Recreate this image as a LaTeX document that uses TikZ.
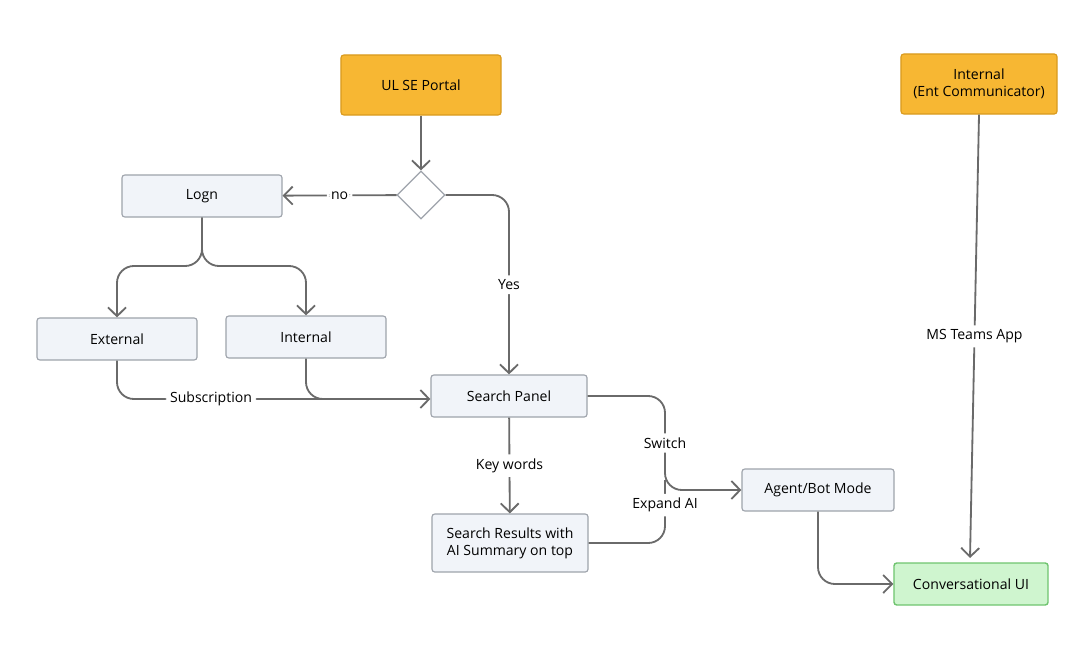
\documentclass[tikz,border=0pt]{standalone}
\usepackage{fontspec}
\setmainfont{Open Sans}
\usetikzlibrary{arrows.meta,shapes.geometric,positioning}
\definecolor{boxfill}{HTML}{F1F4F9}
\definecolor{boxline}{HTML}{9EA3AB}
\definecolor{startfill}{HTML}{F7B733}
\definecolor{startline}{HTML}{D99A1E}
\definecolor{endfill}{HTML}{CFF5CF}
\definecolor{endline}{HTML}{6FC46F}
\definecolor{wire}{HTML}{6A6A6A}

\begin{document}
\begin{tikzpicture}
	[
		x=0.025cm, y=-0.025cm,
		every node/.style = {font=\fontsize{10}{12}\selectfont, align=center},
		box/.style = {draw=boxline, fill=boxfill, rounded corners=2pt, line width=0.8pt, minimum width=4cm, minimum height=1.05cm},
		start/.style = {box, draw=startline, fill=startfill, minimum height=1.5cm},
		goal/.style = {box, draw=endline, fill=endfill, line width=1pt},
		wire/.style = {draw=wire, line width=1.3pt, rounded corners=12pt, -{Straight Barb[length=2.2mm,width=4.5mm]}},
		tag/.style = {fill=white, inner sep=3pt},
	]
  \useasboundingbox (0,0) rectangle (1089,657);

  \node[start] (portal) at (421,85) {UL SE Portal};
  \node[start, minimum width=3.9cm] (ent) at (979,84) {Internal\\(Ent Communicator)};
  \node[diamond, draw=boxline, fill=white, line width=0.8pt, minimum size=1.2cm, inner sep=0pt] (check) at (421,195) {};
  \node[box] (login) at (202,196) {Logn};
  \node[box] (ext) at (117,339) {External};
  \node[box] (int) at (306,337) {Internal};
  \node[box, minimum width=3.9cm] (search) at (509,396) {Search Panel};
  \node[box, minimum width=3.9cm, minimum height=1.45cm] (results) at (510,543) {Search Results with\\AI Summary on top};
  \node[box, minimum width=3.8cm] (agent) at (818,490) {Agent/Bot Mode};
  \node[goal, minimum width=3.85cm] (conv) at (971,584) {Conversational UI};

  \coordinate (subjoin) at (330,399);

  \path[wire] (portal) -- (check);
  \path[wire] (check) -- node[tag] {no} (login);
  \path[wire] (check.east) -- (509,195) -- node[tag] {Yes} (search);
  \path[wire] (login.south) -- (202,266) -- (117,266) -- (ext.north);
  \path[wire] (login.south) -- (202,266) -- (306,266) -- (int.north);
  \path[wire] (ext.south) -- (117,399) -- node[tag, pos=0.3] {Subscription} (search.west |- subjoin);
  \path[draw=wire, line width=1.3pt, rounded corners=12pt] (int.south) -- (306,399) -- (subjoin);
  \path[wire] (search) -- node[tag] {Key words} (results);
  \path[wire] (search.east |- 0,396) -- (665,396) -- node[tag] {Switch} (665,490) -- (agent.west);
  \path[draw=wire, line width=1.3pt, rounded corners=12pt] (results.east |- 0,543) -- (665,543) -- node[tag, pos=0.6] {Expand AI} (665,480);
  \path[wire] (agent.south) -- (818,584) -- (conv.west);
  \path[wire] (ent.south) -- node[tag] {MS Teams App} (970,558);
\end{tikzpicture}
\end{document}
